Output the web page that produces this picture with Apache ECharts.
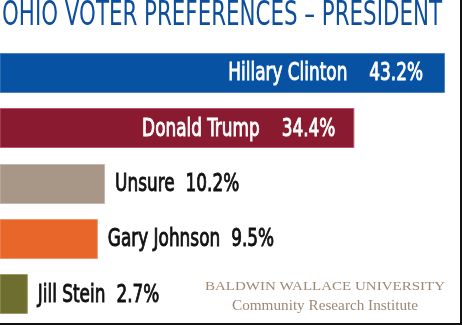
<!DOCTYPE html>
<html>
<head>
<meta charset="utf-8">
<script src="https://cdn.jsdelivr.net/npm/echarts@6/dist/echarts.min.js"></script>
<style>
html,body{margin:0;padding:0;background:#fff;}
#c{width:460px;height:323px;border-right:2px solid #111;border-bottom:2px solid #111;}
</style>
</head>
<body>
<div id="c"></div>
<script>
const categories = ['Hillary Clinton', 'Donald Trump', 'Unsure', 'Gary Johnson', 'Jill Stein'];
const values = [43.2, 34.4, 10.2, 9.5, 2.7];
const barColors = ['#0852a3', '#8a1a30', '#a89787', '#e8662a', '#6e6f2f'];
const barEdges = ['#4f82bd', '#b55a6a', '#c4b8ac', '#f0946a', '#9a9b68'];
const titleText = 'OHIO VOTER PREFERENCES \u2013 PRESIDENT';
const footerLine1 = 'BALDWIN WALLACE UNIVERSITY';
const footerLine2 = 'Community Research Institute';

const mctx = document.createElement('canvas').getContext('2d');
function textW(font, s) { mctx.font = font; return mctx.measureText(s).width; }

const LABEL_FONT = "25px 'DejaVu Sans Condensed', sans-serif";
const labelScale = 119 / textW(LABEL_FONT, 'Hillary Clinton');
const TITLE_FONT = "34px 'DejaVu Sans Condensed', sans-serif";
const titleScale = 440 / textW(TITLE_FONT, titleText);
const F1_FONT = "13px 'Liberation Serif', serif";
const f1Scale = 240 / textW(F1_FONT, footerLine1);
const F2_FONT = "15px 'Liberation Serif', serif";
const f2Scale = 186 / textW(F2_FONT, footerLine2);

const insideDist = [22, 19];
const outsideDist = 10;

const chart = echarts.init(document.getElementById('c'));

chart.setOption({
  animation: false,
  grid: { left: 0, top: 45, width: 445, height: 277, containLabel: false },
  xAxis: { type: 'value', min: 0, max: 43.2, show: false },
  yAxis: { type: 'category', data: categories, inverse: true, show: false },
  series: [{
    type: 'custom',
    encode: { x: 0, y: 1 },
    data: values.map((v, i) => [v, i]),
    renderItem: function (params, api) {
      const idx = params.dataIndex;
      const v = api.value(0);
      const c = api.value(1);
      const p0 = api.coord([0, c]);
      const p1 = api.coord([v, c]);
      const h = 40;
      const inside = idx < 2;
      const gap = (inside ? 22 : 11) / labelScale;
      const fill = inside ? '#ffffff' : '#111111';
      const txt = '{n|' + categories[idx] + '}{v|' + v.toFixed(1) + '%}';
      return {
        type: 'group',
        children: [
          { type: 'rect',
            shape: { x: p0[0], y: Math.round(p0[1] - h / 2) + 0.5, width: p1[0] - p0[0] - 0.5, height: h - 1 },
            style: { fill: barColors[idx], stroke: barEdges[idx], lineWidth: 1 } },
          { type: 'text',
            x: inside ? p1[0] - insideDist[idx] : p1[0] + outsideDist,
            y: p0[1] + 1,
            scaleX: labelScale,
            style: {
              text: txt, fill: fill, font: LABEL_FONT,
              stroke: fill, lineWidth: 0.9,
              align: inside ? 'right' : 'left', verticalAlign: 'middle',
              rich: {
                n: { fill: fill, font: LABEL_FONT, stroke: fill, lineWidth: 0.9, padding: [0, gap, 0, 0] },
                v: { fill: fill, font: LABEL_FONT, stroke: fill, lineWidth: 0.9 }
              }
            } }
        ]
      };
    }
  }],
  graphic: [
    { type: 'text', x: 2, y: 16, scaleX: titleScale,
      style: { text: titleText, fill: '#0d4f9e', font: TITLE_FONT, verticalAlign: 'middle' } },
    { type: 'text', x: 325, y: 287, scaleX: f1Scale,
      style: { text: footerLine1, fill: '#9e8874', font: F1_FONT, align: 'center', verticalAlign: 'middle' } },
    { type: 'text', x: 325, y: 306, scaleX: f2Scale,
      style: { text: footerLine2, fill: '#9e8874', font: F2_FONT, align: 'center', verticalAlign: 'middle' } }
  ]
});
</script>
</body>
</html>
